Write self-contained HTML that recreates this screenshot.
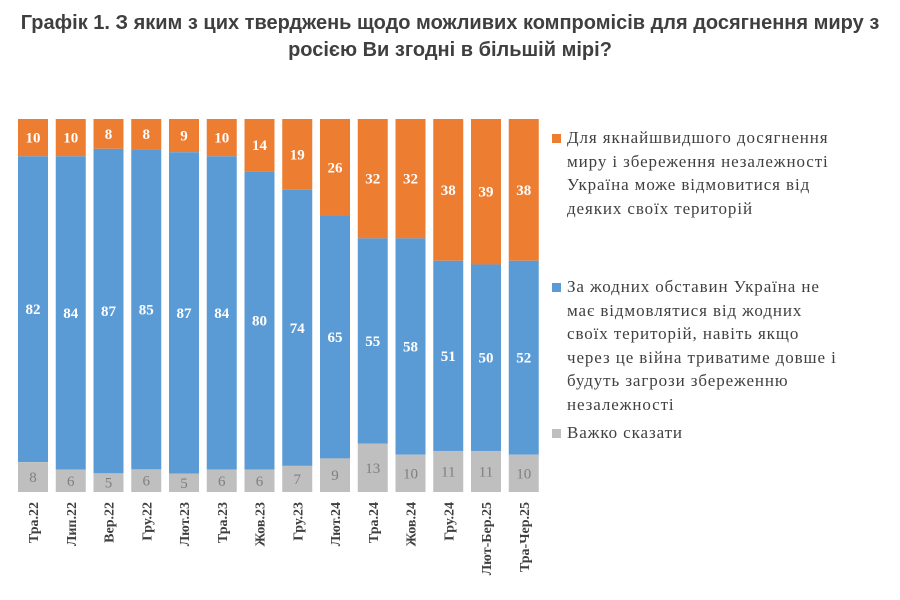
<!DOCTYPE html>
<html><head><meta charset="utf-8">
<style>
body{margin:0;background:#fff;width:900px;height:600px;overflow:hidden;font-family:"Liberation Serif",serif}
.title{position:absolute;left:0;top:10px;width:900px;text-align:center;font-family:"Liberation Sans",sans-serif;font-weight:bold;font-size:20px;color:#3f3f3f;line-height:27px}
.leg{position:absolute;left:567px;font-size:17px;letter-spacing:0.9px;color:#404040;line-height:23.5px;width:330px}
.mk{position:absolute;left:552px;width:9px;height:9px}
</style></head><body>
<div class="title">Графік 1. З яким з цих тверджень щодо можливих компромісів для досягнення миру з<br>росією Ви згодні в більшій мірі?</div>
<svg id="chart" width="900" height="600" style="position:absolute;left:0;top:0"></svg>
<div class="mk" style="top:134px;background:#ed7d31"></div>
<div class="leg" style="top:126px">Для якнайшвидшого досягнення<br>миру і збереження незалежності<br>Україна може відмовитися від<br>деяких своїх територій</div>
<div class="mk" style="top:283px;background:#5b9bd5"></div>
<div class="leg" style="top:275px">За жодних обставин Україна не<br>має відмовлятися від жодних<br>своїх територій, навіть якщо<br>через це війна триватиме довше і<br>будуть загрози збереженню<br>незалежності</div>
<div class="mk" style="top:429px;background:#bfbfbf"></div>
<div class="leg" style="top:421px">Важко сказати</div>
<script>
const categories=["Тра.22","Лип.22","Вер.22","Гру.22","Лют.23","Тра.23","Жов.23","Гру.23","Лют.24","Тра.24","Жов.24","Гру.24","Лют-Бер.25","Тра-Чер.25"];
const concede=[10,10,8,8,9,10,14,19,26,32,32,38,39,38];
const noConcede=[82,84,87,85,87,84,80,74,65,55,58,51,50,52];
const hardToSay=[8,6,5,6,5,6,6,7,9,13,10,11,11,10];
const svg=document.getElementById('chart');
const NS='http://www.w3.org/2000/svg';
const x0=18,pitch=37.75,bw=30,yTop=119,yBottom=492;
function xPos(i){return x0+i*pitch;}
function yScale(frac){return yTop+frac*(yBottom-yTop);}
function mk(tag,attrs){const e=document.createElementNS(NS,tag);for(const k in attrs)e.setAttribute(k,attrs[k]);svg.appendChild(e);return e;}
categories.forEach((c,i)=>{
  const tot=concede[i]+noConcede[i]+hardToSay[i];
  const segs=[[concede[i],'#ed7d31','#fff','bold','concede'],[noConcede[i],'#5b9bd5','#fff','bold','no-concede'],[hardToSay[i],'#bfbfbf','#7f7f7f','normal','hard-to-say']];
  let acc=0;const x=xPos(i);
  segs.forEach(s=>{
    const y1=yScale(acc/tot),y2=yScale((acc+s[0])/tot);acc+=s[0];
    const r=mk('rect',{x:x,y:y1,width:bw,height:y2-y1,fill:s[1]});
    
    
    const t=mk('text',{x:x+bw/2,y:(y1+y2)/2+5,'text-anchor':'middle','font-size':15,'font-weight':s[3],fill:s[2],'font-family':'Liberation Serif,serif'});
    t.textContent=s[0];
    
    
  });
  const lbl=mk('text',{x:0,y:0,transform:'translate('+(x+bw/2+5)+',502) rotate(-90)','text-anchor':'end','font-size':14,'font-weight':'bold',fill:'#404040','font-family':'Liberation Serif,serif'});
  lbl.textContent=c;
  
  
});
</script>
</body></html>
